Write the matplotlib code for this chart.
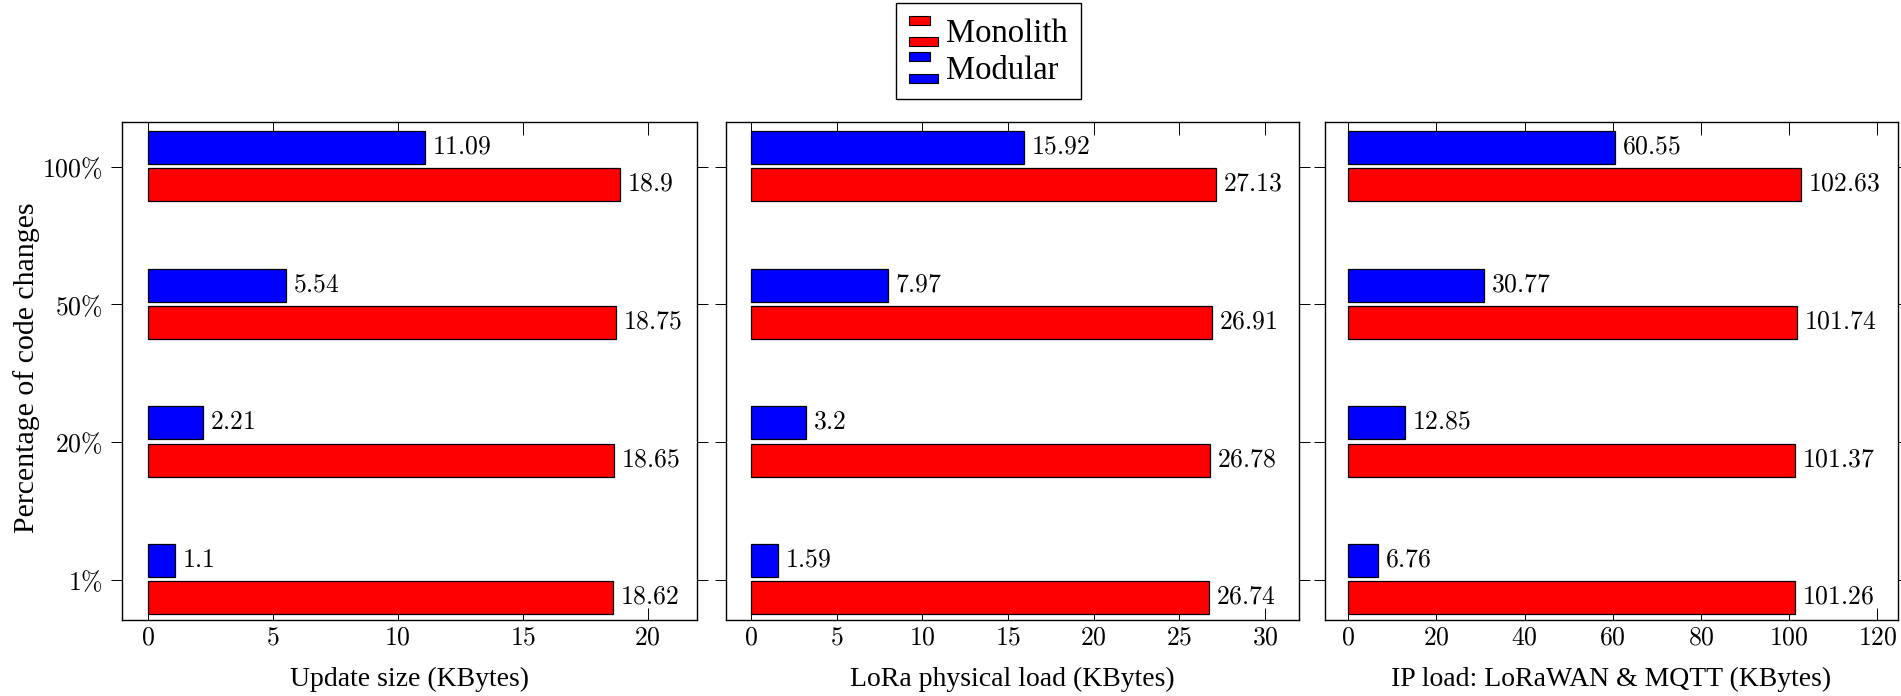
import matplotlib
matplotlib.use("Agg")
import matplotlib.pyplot as plt
from matplotlib.patches import Rectangle, Patch
from matplotlib.legend_handler import HandlerBase
from matplotlib.ticker import FuncFormatter, FixedLocator

plt.rcParams['mathtext.fontset'] = 'cm'
plt.rcParams['font.family'] = ['Liberation Serif', 'DejaVu Serif']

categories = ['1%', '20%', '50%', '100%']
monolith_update = [18.62, 18.65, 18.75, 18.9]
modular_update = [1.1, 2.21, 5.54, 11.09]
monolith_lora = [26.74, 26.78, 26.91, 27.13]
modular_lora = [1.59, 3.2, 7.97, 15.92]
monolith_ip = [101.26, 101.37, 101.74, 102.63]
modular_ip = [6.76, 12.85, 30.77, 60.55]

xlabels = ['Update size (KBytes)', 'LoRa physical load (KBytes)',
           'IP load: LoRaWAN & MQTT (KBytes)']
ylabel = 'Percentage of code changes'
series_names = ['Monolith', 'Modular']
colors = {'Monolith': '#ff0000', 'Modular': '#0000ff'}

panels = [
    (monolith_update, modular_update, (-1.02, 21.96), [0, 5, 10, 15, 20]),
    (monolith_lora, modular_lora, (-1.46, 32.0), [0, 5, 10, 15, 20, 25, 30]),
    (monolith_ip, modular_ip, (-5.35, 124.6), [0, 20, 40, 60, 80, 100, 120]),
]

W, H = 1901, 696
fig = plt.figure(figsize=(W / 100, H / 100), dpi=100)

lefts = [122.3, 726.0, 1324.7]
rights = [696.7, 1299.3, 1897.7]
top_px, bot_px = 122.0, 619.5

FS = 18.5
XLFS = 20
YLFS = 21.5
bar_h = 0.24
mono_off = -0.13
mod_off = 0.14

for i, (mono, mod, xlim, xt) in enumerate(panels):
    ax = fig.add_axes([lefts[i] / W, 1 - bot_px / H, (rights[i] - lefts[i]) / W,
                       (bot_px - top_px) / H])
    ypos = list(range(len(categories)))
    ax.barh([y + mono_off for y in ypos], mono, height=bar_h, color=colors['Monolith'],
            edgecolor='black', linewidth=0.9, zorder=3)
    ax.barh([y + mod_off for y in ypos], mod, height=bar_h, color=colors['Modular'],
            edgecolor='black', linewidth=0.9, zorder=3)
    for y, v in zip(ypos, mono):
        ax.annotate(r'$%s$' % ('{:g}'.format(v)), (v, y + mono_off), xytext=(5, 0),
                    textcoords='offset points', va='center', ha='left', fontsize=FS, zorder=4)
    for y, v in zip(ypos, mod):
        ax.annotate(r'$%s$' % ('{:g}'.format(v)), (v, y + mod_off), xytext=(5, 0),
                    textcoords='offset points', va='center', ha='left', fontsize=FS, zorder=4)
    ax.set_xlim(*xlim)
    ax.set_ylim(-0.288, 3.325)
    ax.xaxis.set_major_locator(FixedLocator(xt))
    ax.xaxis.set_major_formatter(FuncFormatter(lambda x, p: r'$%g$' % x))
    ax.set_yticks(ypos)
    if i == 0:
        ax.set_yticklabels([r'$%s\%%$' % c.rstrip('%') for c in categories])
    else:
        ax.set_yticklabels([])
    ax.tick_params(axis='x', direction='in', top=True, bottom=True, length=9,
                   width=0.7, labelsize=FS, pad=6)
    ax.tick_params(axis='y', direction='out', left=True, right=True, length=8,
                   width=0.7, labelsize=FS, pad=6)
    for s in ax.spines.values():
        s.set_linewidth(1.0)
    ax.set_xlabel(xlabels[i], fontsize=XLFS, labelpad=12.5)

fig.text(27 / W, 1 - 368 / H, ylabel, rotation=90, ha='center', va='center', fontsize=YLFS)


class TwoBarHandler(HandlerBase):
    def create_artists(self, legend, orig_handle, xdescent, ydescent, width, height,
                       fontsize, trans):
        fc = orig_handle.get_facecolor()
        rh = 0.28 * fontsize
        span = 0.94 * fontsize
        cy = -ydescent + height / 2
        r1 = Rectangle((-xdescent, cy + span / 2 - rh), width * 0.72, rh, facecolor=fc,
                       edgecolor='black', linewidth=0.8, transform=trans)
        r2 = Rectangle((-xdescent, cy - span / 2), width, rh, facecolor=fc,
                       edgecolor='black', linewidth=0.8, transform=trans)
        return [r1, r2]


handles = [Patch(facecolor=colors[n]) for n in series_names]
hmap = {h: TwoBarHandler() for h in handles}
leg = fig.legend(handles, series_names, handler_map=hmap, loc='center',
                 bbox_to_anchor=(988.5 / W, 1 - 51 / H), fontsize=23.5,
                 frameon=True, fancybox=False, framealpha=1, edgecolor='black',
                 handlelength=0.87, handleheight=1.0, handletextpad=0.25,
                 labelspacing=0.12, borderpad=0.42)
leg.get_frame().set_linewidth(1.0)

fig.savefig('out.png', dpi=100)
